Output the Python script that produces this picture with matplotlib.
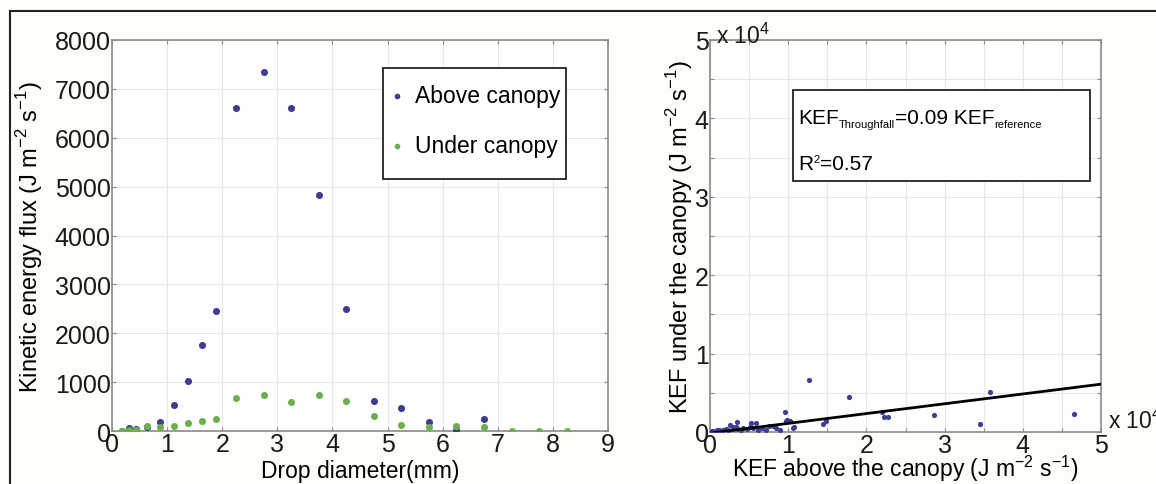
import numpy as np
import matplotlib.pyplot as plt
from matplotlib.lines import Line2D
from matplotlib.patches import Rectangle
from matplotlib.ticker import MultipleLocator, FuncFormatter

plt.rcParams["font.family"] = ["Liberation Sans", "DejaVu Sans"]
plt.rcParams["mathtext.fontset"] = "custom"
plt.rcParams["mathtext.rm"] = "Liberation Sans"

# left panel: kinetic energy flux per drop-size class
diam_above = [0.19, 0.31, 0.44, 0.63, 0.88, 1.13, 1.38, 1.63, 1.88, 2.25, 2.75, 3.25,
              3.75, 4.25, 4.75, 5.25, 5.75, 6.25, 6.75]
kef_above = [10, 55, 40, 90, 190, 540, 1015, 1750, 2450, 6600, 7350, 6600,
             4820, 2500, 620, 475, 190, 30, 250]
diam_under = [0.19, 0.31, 0.44, 0.63, 0.88, 1.13, 1.38, 1.63, 1.88, 2.25, 2.75, 3.25,
              3.75, 4.25, 4.75, 5.25, 5.75, 6.25, 6.75, 7.25, 7.75, 8.25]
kef_under = [0, 25, 25, 100, 75, 100, 155, 200, 250, 680, 736, 600,
             730, 607, 300, 130, 75, 108, 88, 0, 0, 0]

# right panel: KEF above vs under canopy (J m-2 s-1)
kef_ref = [12600, 17800, 35800, 46600, 34500, 28600, 22000, 22300, 22800, 14500, 14800,
           9600, 9800, 10200, 10800, 10600, 9700, 8100, 8500, 9000, 5300, 5900, 5100,
           5500, 3500, 2600, 3600, 4200, 3000, 6600, 7500, 1700, 900, 400, 200, 1200,
           2000, 2300, 4000, 4700, 6200, 7100, 1500, 600, 100, 3300]
kef_tf = [6600, 4500, 5100, 2250, 1000, 2150, 2500, 1950, 1950, 1000, 1400,
          2500, 1500, 1400, 700, 450, 1400, 800, 450, 300, 1200, 1200, 600,
          450, 1300, 900, 350, 450, 600, 500, 800, 300, 200, 150, 100, 250,
          400, 300, 300, 350, 250, 300, 150, 50, 0, 700]
fit_slope = 0.125
fit_intercept = -150
fit_x = [0, 50000]

blue = "#3d3d94"
green = "#6cb04e"
spine_col = "#8a8a8a"
grid_col = "#e6e6e6"
bg = "#fdfdf9"

fig = plt.figure(figsize=(11.56, 4.85), dpi=100, facecolor=bg)

ax1 = fig.add_axes([112 / 1156, 1 - 432 / 485, 496 / 1156, 391 / 485])
ax2 = fig.add_axes([710 / 1156, 1 - 433 / 485, 391 / 1156, 392 / 485])

for ax in (ax1, ax2):
    ax.set_facecolor("white")
    for s in ax.spines.values():
        s.set_color(spine_col)
        s.set_linewidth(1.2)
    ax.tick_params(direction="in", length=3, color=spine_col, labelsize=18,
                   labelcolor="#1a1a1a", pad=1, top=True, right=True)
    ax.grid(True, color=grid_col, linewidth=0.8)
    ax.set_axisbelow(True)

# left panel
ax1.scatter(diam_above, kef_above, s=26, color=blue, zorder=3, label="Above canopy",
            linewidths=0)
ax1.scatter(diam_under, kef_under, s=26, color=green, zorder=4, label="Under canopy",
            linewidths=0)
ax1.set_xlim(0, 9)
ax1.set_ylim(0, 8000)
ax1.xaxis.set_major_locator(MultipleLocator(1))
ax1.yaxis.set_major_locator(MultipleLocator(1000))
ax1.set_xlabel("Drop diameter(mm)", fontsize=16.5, labelpad=2)
ax1.set_ylabel("Kinetic energy flux (J m$^{-2}$ s$^{-1}$)", fontsize=17, labelpad=7)
ax1.add_patch(Rectangle((0.546, 0.645), 0.369, 0.283, transform=ax1.transAxes,
                        facecolor="white", edgecolor="#222222", linewidth=1.3, zorder=5))
leg = ax1.legend(loc="upper left", bbox_to_anchor=(0.560, 0.887), fontsize=16.5,
                 frameon=False, handletextpad=0.5, handlelength=0.6,
                 borderpad=0, labelspacing=1.17, markerscale=0.8, borderaxespad=0)
leg.set_zorder(6)

# right panel
ax2.scatter(kef_ref, kef_tf, s=14, color=blue, zorder=3, linewidths=0)
fx = np.array(fit_x, dtype=float)
ax2.plot(fx, fit_slope * fx + fit_intercept, color="black", linewidth=2, zorder=4)
ax2.set_xlim(0, 50000)
ax2.set_ylim(0, 50000)
ax2.xaxis.set_major_locator(MultipleLocator(5000))
ax2.yaxis.set_major_locator(MultipleLocator(5000))
fmt = FuncFormatter(lambda v, p: "%d" % round(v / 1e4) if abs(v % 10000) < 1 else "")
ax2.xaxis.set_major_formatter(fmt)
ax2.yaxis.set_major_formatter(fmt)
ax2.set_xlabel("KEF above the canopy (J m$^{-2}$ s$^{-1}$)", fontsize=16.5, labelpad=-3)
ax2.set_ylabel("KEF under the canopy (J m$^{-2}$ s$^{-1}$)", fontsize=17, labelpad=0)
ax2.text(0.015, 0.992, "x 10$^4$", transform=ax2.transAxes, fontsize=16.5,
         ha="left", va="baseline", color="#1a1a1a")
ax2.text(1.018, 0.03, "x 10$^4$", transform=ax2.transAxes, fontsize=16.5,
         ha="left", va="center", color="#1a1a1a")

# fit annotation box
ax2.add_patch(Rectangle((0.2123, 0.640), 0.760, 0.232, transform=ax2.transAxes,
                        facecolor="white", edgecolor="#222222", linewidth=1.3, zorder=5))
main_fs, sub_fs = 15, 8
t1 = ax2.text(0.225, 0.778, "KEF", transform=ax2.transAxes, fontsize=main_fs,
              va="bottom", ha="left", zorder=6)
s1 = ax2.annotate("Throughfall", xy=(1, 0), xycoords=t1, fontsize=sub_fs,
                  va="baseline", ha="left", zorder=6)
t2 = ax2.annotate("=0.09 KEF", xy=(1, 0), xycoords=(s1, t1), fontsize=main_fs,
                  va="bottom", ha="left", zorder=6)
ax2.annotate("reference", xy=(1, 0), xycoords=t2, fontsize=sub_fs,
             va="baseline", ha="left", zorder=6)
r1 = ax2.text(0.225, 0.660, "R", transform=ax2.transAxes, fontsize=main_fs,
              va="bottom", ha="left", zorder=6)
r2 = ax2.annotate("2", xy=(1, 0), xycoords=r1, xytext=(0.3, 8),
                  textcoords="offset points", fontsize=sub_fs,
                  va="baseline", ha="left", zorder=6)
ax2.annotate("=0.57", xy=(1, 0), xycoords=(r2, r1), fontsize=main_fs,
             va="bottom", ha="left", zorder=6)

# outer frame of the figure panel
fig.add_artist(Line2D([10 / 1156, 1.0], [1 - 12 / 485, 1 - 12 / 485],
                      transform=fig.transFigure, color="#222222", linewidth=1.5))
fig.add_artist(Line2D([10 / 1156, 10 / 1156], [1 - 12 / 485, 0.0],
                      transform=fig.transFigure, color="#222222", linewidth=1.5))

fig.savefig("out.png", dpi=100, facecolor=bg)
